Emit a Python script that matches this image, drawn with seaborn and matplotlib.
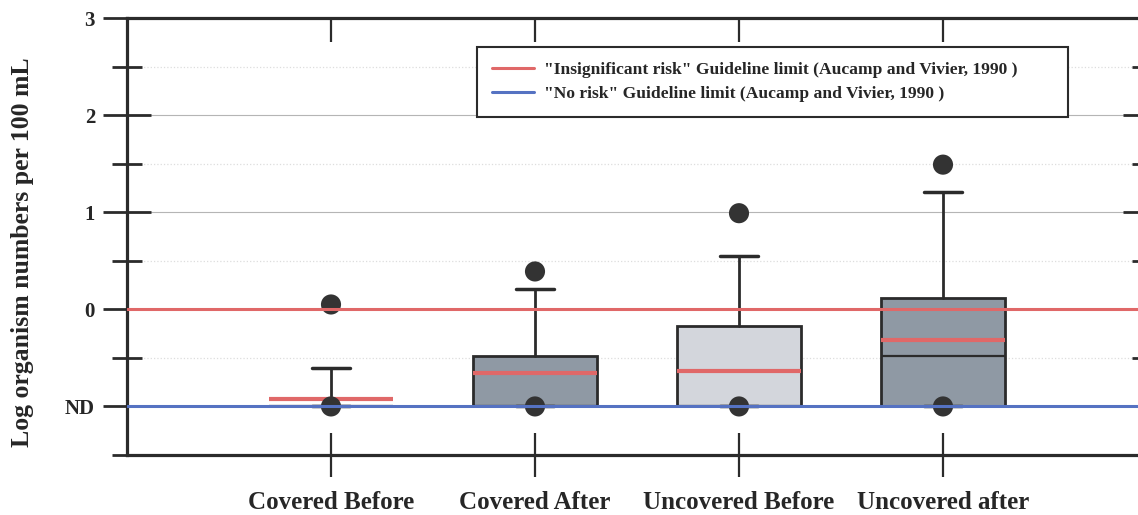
import numpy as np
import pandas as pd
import matplotlib
matplotlib.use("Agg")
import matplotlib.pyplot as plt
import seaborn as sns
from matplotlib.ticker import FixedLocator

# ---------------- data ----------------
categories = ["Covered Before", "Covered After", "Uncovered Before", "Uncovered after"]
q1 = [-1.0, -1.0, -1.0, -1.0]
median = [-1.0, -1.0, -1.0, -0.48]
q3 = [-1.0, -0.48, -0.17, 0.12]
mean = [-0.92, -0.66, -0.63, -0.32]
whisker_low = [-1.0, -1.0, -1.0, -1.0]
whisker_high = [-0.60, 0.21, 0.55, 1.21]
pct5 = [-1.0, -1.0, -1.0, -1.0]
pct95 = [0.05, 0.39, 0.99, 1.49]
insignificant_limit = 0.0
no_risk_limit = -1.0
y_major = [3, 2, 1, 0, -1]
y_major_labels = ["3", "2", "1", "0", "ND"]
y_minor = [2.5, 1.5, 0.5, -0.5, -1.5]
legend_labels = ['"Insignificant risk" Guideline limit (Aucamp and Vivier, 1990 )',
                 '"No risk" Guideline limit (Aucamp and Vivier, 1990 )']

# ---------------- style ----------------
sns.set_style("white")
plt.rcParams["font.family"] = ["Liberation Serif", "DejaVu Serif"]
plt.rcParams["font.weight"] = "bold"

box_colors = ["#c9cdd3", "#8f99a4", "#d3d6dc", "#8f99a4"]
dark = "#2b2b2b"
red = "#e06868"
blue = "#5572c2"

fig = plt.figure(figsize=(11.38, 5.15), dpi=100)
ax = fig.add_axes([127 / 1138, 60 / 515, 1020 / 1138, 437 / 515])

positions = list(range(len(categories)))
stats = []
for i, c in enumerate(categories):
    stats.append(dict(label=c, q1=q1[i], med=median[i], q3=q3[i],
                      whislo=whisker_low[i], whishi=whisker_high[i],
                      mean=mean[i], fliers=[]))

bp = ax.bxp(stats, positions=positions, widths=0.61, patch_artist=True,
            showmeans=True, meanline=True, showfliers=False, capwidths=0.19,
            boxprops=dict(edgecolor=dark, linewidth=2.0),
            medianprops=dict(color=dark, linewidth=1.6),
            meanprops=dict(color=red, linestyle="-", linewidth=3.0),
            whiskerprops=dict(color=dark, linewidth=2.0),
            capprops=dict(color=dark, linewidth=2.5),
            zorder=2)
for patch, col in zip(bp["boxes"], box_colors):
    patch.set_facecolor(col)

# 5th / 95th percentile points
pts = pd.DataFrame({"x": positions * 2, "y": pct95 + pct5})
sns.scatterplot(data=pts, x="x", y="y", ax=ax, s=210, color="#333333",
                edgecolor="none", zorder=3, legend=False)

# guideline limits
ax.axhline(insignificant_limit, color=red, lw=2.2, zorder=5, label=legend_labels[0])
ax.axhline(no_risk_limit, color=blue, lw=2.2, zorder=5, label=legend_labels[1])

# axes
ax.set_xlim(-1.0, 4.0)
ax.set_ylim(-1.5, 3.0)
ax.set_xticks(positions)
ax.set_xticklabels(categories, fontsize=18, fontweight="bold")
ax.yaxis.set_major_locator(FixedLocator(y_major))
ax.set_yticklabels(y_major_labels, fontsize=15, fontweight="bold")
ax.yaxis.set_minor_locator(FixedLocator(y_minor))
ax.set_xlabel("")
ax.set_ylabel("Log organism numbers per 100 mL", fontsize=18.5, fontweight="bold")
ax.yaxis.set_label_coords((34 - 127) / 1020, (455 - 252) / 437)

ax.yaxis.grid(True, which="major", color="#b5b5b5", lw=0.8, zorder=0)
ax.yaxis.grid(True, which="minor", color="#dddddd", lw=0.9, ls=":", zorder=0)
ax.xaxis.grid(False)

for s in ax.spines.values():
    s.set_visible(True)
    s.set_color(dark)
    s.set_linewidth(2.3)

ax.tick_params(axis="y", which="major", direction="inout", length=34, width=2.0,
               color=dark, left=True, right=True, pad=6)
ax.tick_params(axis="y", which="minor", direction="inout", length=22, width=2.0,
               color=dark, left=True, right=True)
ax.tick_params(axis="x", which="major", direction="inout", length=32, width=1.6,
               color=dark, bottom=True, top=False, pad=10)

top = ax.secondary_xaxis("top")
top.set_xticks(positions)
top.tick_params(axis="x", direction="in", length=17, width=1.6, color=dark,
                labeltop=False)
top.spines["top"].set_visible(False)

lx0, lx1 = 477 / 1138, 1068 / 1138
ly1 = 1 - 47 / 515
leg = ax.legend(loc="upper left", bbox_to_anchor=(lx0, ly1 - 0.13, lx1 - lx0, 0.13),
                bbox_transform=fig.transFigure, mode="expand", frameon=True,
                fancybox=False,
                prop=dict(family="Liberation Serif", weight="bold", size=12.6),
                handlelength=2.4, handletextpad=0.6, labelspacing=0.43,
                borderpad=0.85, borderaxespad=0)
leg.get_frame().set_edgecolor(dark)
leg.get_frame().set_linewidth(1.5)
leg.get_frame().set_alpha(1)

fig.savefig("out.png", dpi=100)
